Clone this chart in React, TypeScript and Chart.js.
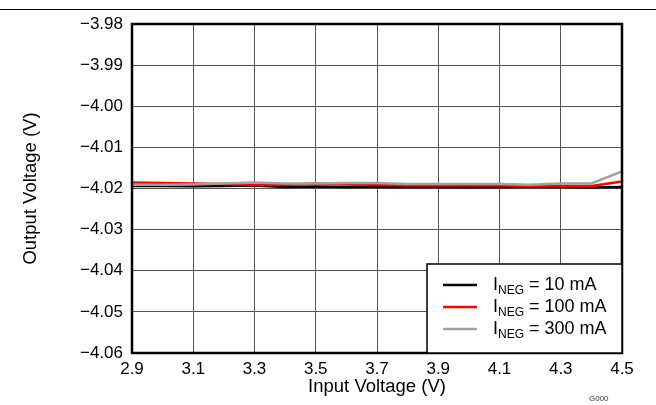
import React, { useEffect, useRef } from "react";
import { Chart, registerables } from "chart.js";

Chart.register(...registerables);

const inputVoltage = [2.9, 3.0, 3.1, 3.2, 3.3, 3.4, 3.5, 3.6, 3.7, 3.8, 3.9, 4.0, 4.1, 4.2, 4.3, 4.4, 4.5];
const ineg10mA = [-4.01937, -4.01937, -4.01944, -4.01937, -4.01925, -4.01961, -4.01949, -4.01961, -4.01961, -4.01961, -4.01961, -4.01968, -4.01961, -4.01961, -4.01961, -4.01973, -4.01961];
const ineg100mA = [-4.01852, -4.01864, -4.01876, -4.01888, -4.01912, -4.01912, -4.01876, -4.019, -4.01912, -4.01925, -4.01925, -4.01925, -4.01925, -4.01937, -4.01937, -4.01937, -4.01832];
const ineg300mA = [-4.0191, -4.0191, -4.019, -4.01876, -4.01852, -4.01876, -4.01876, -4.01864, -4.01864, -4.01888, -4.01888, -4.01888, -4.01888, -4.0191, -4.01876, -4.01876, -4.01584];
const xTicks = [2.9, 3.1, 3.3, 3.5, 3.7, 3.9, 4.1, 4.3, 4.5];
const yTicks = [-3.98, -3.99, -4.0, -4.01, -4.02, -4.03, -4.04, -4.05, -4.06];
const legendLabels = ["10 mA", "100 mA", "300 mA"];
const seriesColors = ["#000000", "#ff0000", "#a0a0a0"];

const FONT = "'Liberation Sans', Arial, sans-serif";

const decorPlugin = {
  id: "decor",
  beforeDraw(chart: any) {
    const { ctx, width } = chart;
    ctx.save();
    ctx.strokeStyle = "#000";
    ctx.lineWidth = 1;
    ctx.beginPath();
    ctx.moveTo(0, 9.5);
    ctx.lineTo(width, 9.5);
    ctx.stroke();
    ctx.restore();
  },
  afterDatasetsDraw(chart: any) {
    const { ctx, chartArea } = chart;
    const { left, top, right, bottom } = chartArea;
    ctx.save();
    ctx.strokeStyle = "#000";
    ctx.lineWidth = 2.5;
    ctx.strokeRect(left, top, right - left, bottom - top);
    ctx.restore();
  },
  afterDraw(chart: any) {
    const { ctx, chartArea } = chart;
    const bx = 427;
    const by = 264;
    const bw = chartArea.right - bx;
    const bh = chartArea.bottom - by;
    ctx.save();
    ctx.fillStyle = "#fff";
    ctx.fillRect(bx, by, bw, bh);
    ctx.strokeStyle = "#000";
    ctx.lineWidth = 1.5;
    ctx.strokeRect(bx, by, bw, bh);
    const rows = [284, 306, 328];
    legendLabels.forEach((lab, i) => {
      const y = rows[i];
      ctx.strokeStyle = seriesColors[i];
      ctx.lineWidth = 2.5;
      ctx.beginPath();
      ctx.moveTo(443, y + 1);
      ctx.lineTo(477, y + 1);
      ctx.stroke();
      ctx.fillStyle = "#000";
      ctx.textBaseline = "alphabetic";
      ctx.textAlign = "left";
      let x = 493;
      const base = y + 6;
      ctx.font = `18px ${FONT}`;
      ctx.fillText("I", x, base);
      x += ctx.measureText("I").width;
      ctx.font = `12px ${FONT}`;
      ctx.fillText("NEG", x, base + 4);
      x += ctx.measureText("NEG").width;
      ctx.font = `18px ${FONT}`;
      ctx.fillText(" = " + lab, x, base);
    });
    ctx.font = `8px ${FONT}`;
    ctx.fillStyle = "#333";
    ctx.fillText("G000", 589, 401);
    ctx.restore();
  },
};

function fmtY(v: number) {
  const s = Math.abs(v).toFixed(2);
  return (v < 0 ? "\u2212" : "") + s;
}

export default function App() {
  const ref = useRef<HTMLCanvasElement>(null);
  useEffect(() => {
    document.body.style.margin = "0";
    const canvas = ref.current!;
    const mk = (data: number[]) => inputVoltage.map((x, i) => ({ x, y: data[i] }));
    const chart = new Chart(canvas, {
      type: "line",
      data: {
        datasets: [
          { label: "10 mA", data: mk(ineg10mA), borderColor: seriesColors[0], borderWidth: 2.5, pointRadius: 0, tension: 0 },
          { label: "100 mA", data: mk(ineg100mA), borderColor: seriesColors[1], borderWidth: 2.5, pointRadius: 0, tension: 0 },
          { label: "300 mA", data: mk(ineg300mA), borderColor: seriesColors[2], borderWidth: 2.5, pointRadius: 0, tension: 0 },
        ].reverse(),
      },
      options: {
        animation: false,
        responsive: false,
        devicePixelRatio: 1,
        layout: { padding: { top: 24, right: 34, left: 0, bottom: 0 } },
        plugins: { legend: { display: false }, tooltip: { enabled: false } },
        scales: {
          x: {
            type: "linear",
            min: 2.9,
            max: 4.5,
            afterBuildTicks: (s: any) => { s.ticks = xTicks.map((v) => ({ value: v })); },
            afterFit: (s: any) => { s.height = 52; },
            grid: { color: "#555", lineWidth: 1, drawTicks: false },
            border: { display: false },
            ticks: {
              padding: 6,
              color: "#000",
              font: { family: FONT, size: 17 },
              callback: (v: any) => Number(v).toFixed(1),
              maxRotation: 0,
              autoSkip: false,
            },
            title: { display: true, text: "Input Voltage (V)", color: "#000", font: { family: FONT, size: 18.5 }, padding: { bottom: 7, top: 0 } },
          },
          y: {
            type: "linear",
            min: -4.06,
            max: -3.98,
            afterBuildTicks: (s: any) => { s.ticks = yTicks.map((v) => ({ value: v })); },
            afterFit: (s: any) => { s.width = 132; },
            grid: { color: "#555", lineWidth: 1, drawTicks: false },
            border: { display: false },
            ticks: {
              padding: 9,
              color: "#000",
              font: { family: FONT, size: 17 },
              callback: (v: any) => fmtY(Number(v)),
              autoSkip: false,
            },
            title: { display: true, text: "Output Voltage (V)", color: "#000", font: { family: FONT, size: 18.5 }, padding: { top: 20, bottom: 0 } },
          },
        },
      },
      plugins: [decorPlugin],
    } as any);
    return () => chart.destroy();
  }, []);
  return <canvas ref={ref} width={656} height={405} style={{ display: "block" }} />;
}
